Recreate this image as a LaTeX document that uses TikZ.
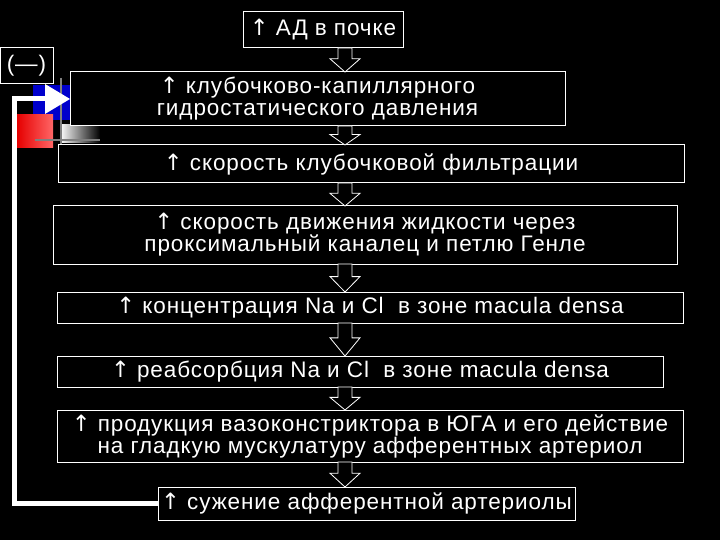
\documentclass[tikz,border=0pt]{standalone}
\usepackage{fontspec}
\setmainfont[LetterSpace=4]{Liberation Sans}
\newfontfamily\dvs{DejaVu Sans}
\newcommand{\up}{{\dvs\char"2191}}
\begin{document}
\begin{tikzpicture}[x=1pt,y=-1pt,
  box/.style={draw=white,line width=1pt,fill=black,text=white,align=center,font=\fontsize{22.5}{22}\selectfont,inner sep=0pt},
  barrow/.style={draw=white,fill=black,line width=0.8pt}]
\fill[black] (0,0) rectangle (720,540);
\useasboundingbox (0,0) rectangle (720,540);
% decorations
\fill[blue!80!black] (33,85) rectangle (70,120);
\shade[left color=red!90!black,right color=red!60!white] (17,115) rectangle (53,148);
\shade[left color=white,right color=black] (60,125) rectangle (100,143);
\draw[gray,line width=1.5pt] (35,140) -- (100,140);
\draw[gray,line width=1.5pt] (61,78) -- (61,145);
% boxes
\node[box,minimum width=160,minimum height=36] (b1) at (323,30) {\up\ АД в почке};
\node[box,minimum width=53,minimum height=36] (neg) at (26.5,66) {(—)};
\node[box,minimum width=495,minimum height=54] (b2) at (317.5,99) {\up\ клубочково-капиллярного\\гидростатического давления};
\node[box,minimum width=626,minimum height=38] (b3) at (371,164) {\up\ скорость клубочковой фильтрации};
\node[box,minimum width=624,minimum height=58] (b4) at (365,235) {\up\ скорость движения жидкости через\\проксимальный каналец и петлю Генле};
\node[box,minimum width=626,minimum height=31] (b5) at (370,307.5) {\up\ концентрация Na и Cl\ \ в зоне macula densa};
\node[box,minimum width=606,minimum height=31] (b6) at (360,371.5) {\up\ реабсорбция Na и Cl\ \ в зоне macula densa};
\node[box,minimum width=626,minimum height=52] (b7) at (370,436) {\up\ продукция вазоконстриктора в ЮГА и его действие\\на гладкую мускулатуру афферентных артериол};
\node[box,minimum width=417,minimum height=33] (b8) at (366.5,503.5) {\up\ сужение афферентной артериолы};
% block arrows
\foreach \ya/\yb in {48/72,126/145,183/206,264/292,323/356,387/410,462/487}{
  \pgfmathsetmacro{\ym}{\ya+(\yb-\ya)*0.45}
  \draw[barrow] (338,\ya) -- (352,\ya) -- (352,\ym) -- (360,\ym) -- (345,\yb) -- (330,\ym) -- (338,\ym) -- cycle;
}
% feedback
\coordinate (c1) at (14,503.5);
\coordinate (c2) at (14,99);
\draw[white,line width=5pt] (b8.west) -- (c1) -- (c2) -- (48,99);
\fill[white] (45,84) -- (70,99) -- (45,114) -- cycle;
\end{tikzpicture}
\end{document}
